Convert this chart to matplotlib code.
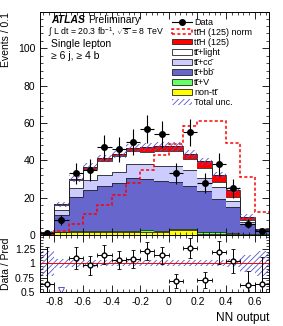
import numpy as np
import matplotlib
matplotlib.use("Agg")
import matplotlib.pyplot as plt
from matplotlib.ticker import MultipleLocator
from matplotlib.patches import Patch
from matplotlib.lines import Line2D

plt.rcParams['font.family'] = ['Liberation Sans', 'DejaVu Sans']
plt.rcParams['mathtext.fontset'] = 'custom'
plt.rcParams['mathtext.rm'] = 'Liberation Sans'
plt.rcParams['mathtext.it'] = 'Liberation Sans:italic'
plt.rcParams['hatch.linewidth'] = 0.6

# NN output bins, 0.1 wide
edges = np.round(np.arange(-0.9, 0.71, 0.1), 2)
centers = edges[:-1] + 0.05

# observed events per bin
data = np.array([1, 8, 33, 35, 47, 46, 50, 57, 54, 33, 55, 28, 38, 25, 6, 2])

# background / signal components
non_tt = np.array([0.5, 1.5, 1.5, 1.5, 1.8, 1.5, 1.5, 1.5, 1.5, 2.5, 2.5, 0.6, 0.6, 0.4, 0.2, 0.1])
tt_v = np.array([0.1, 0.3, 0.4, 0.5, 0.5, 0.5, 0.6, 1.0, 0.8, 0.8, 0.8, 1.2, 1.0, 0.8, 0.5, 0.2])
tt_bb = np.array([0.4, 9.0, 18.6, 22.0, 24.0, 26.0, 28.5, 27.5, 26.9, 25.0, 23.2, 21.6, 17.7, 13.9, 5.1, 1.9])
tt_cc = np.array([0.2, 2.5, 4.5, 5.5, 5.7, 6.0, 7.4, 8.0, 7.8, 8.7, 8.1, 7.2, 6.3, 3.3, 1.4, 0.3])
tt_light = np.array([0.3, 2.9, 4.5, 6.0, 7.8, 8.2, 7.0, 6.7, 8.0, 8.0, 5.9, 5.4, 2.7, 2.1, 0.8, 0.2])
tth = np.array([0.05, 0.3, 0.6, 0.9, 1.2, 1.4, 1.6, 2.5, 2.6, 2.5, 3.1, 3.5, 3.7, 3.5, 1.7, 0.4])
tth_norm = np.array([0.0, 2.2, 6.1, 11.2, 16.0, 21.6, 27.7, 34.6, 42.7, 49.0, 58.4, 61.0, 61.0, 49.4, 31.0, 12.4])
rel_unc = np.array([0.22, 0.08, 0.06, 0.06, 0.05, 0.05, 0.05, 0.05, 0.05, 0.05, 0.05, 0.05, 0.05, 0.07, 0.15, 0.22])

TT = 'tt\u0304'
components = [
    (non_tt, '#ffff00', 'non-' + TT),
    (tt_v, '#66ff66', TT + '+V'),
    (tt_bb, '#6666cc', TT + '+bb\u0304'),
    (tt_cc, '#ccccff', TT + '+cc\u0304'),
    (tt_light, '#ffffff', TT + '+light'),
    (tth, '#ff0000', TT + 'H (125)'),
]

hatch_col = '#5555cc'

fig = plt.figure(figsize=(2.83, 3.26), dpi=100)
ax = fig.add_axes([0.1413, 0.2791, 0.8092, 0.6841])
rax = fig.add_axes([0.1413, 0.1043, 0.8092, 0.1748], sharex=ax)

# stacked histogram
bottom = np.zeros(len(centers))
for vals, col, lab in components:
    top = bottom + vals
    ax.stairs(top, edges, baseline=bottom, fill=True, facecolor=col, lw=0)
    ax.stairs(top, edges, baseline=None, color='#222222', lw=0.6)
    bottom = top
total = bottom

# total uncertainty band
unc = rel_unc * total
ax.bar(centers, 2 * unc, bottom=total - unc, width=0.1, fill=False,
       hatch='//////', edgecolor=hatch_col, lw=0)

# ttH normalised to background
ax.stairs(tth_norm, edges, baseline=None, color='red', lw=1.1, ls=(0, (2, 1.5)))

# data
ax.errorbar(centers, data, yerr=np.sqrt(data), xerr=0.05, fmt='o', color='black',
            ms=4, lw=0.8, capsize=0)

ax.set_xlim(-0.9, 0.7)
ax.set_ylim(0, 119.5)
ax.set_ylabel('Events / 0.1', fontsize=7.5, loc='top')
ax.yaxis.set_label_coords(-0.125, 1.0)
ax.yaxis.set_major_locator(MultipleLocator(20))
ax.yaxis.set_minor_locator(MultipleLocator(4))
ax.xaxis.set_major_locator(MultipleLocator(0.2))
ax.xaxis.set_minor_locator(MultipleLocator(0.04))
plt.setp(ax.get_xticklabels(), visible=False)

for a in (ax, rax):
    a.tick_params(which='both', direction='in', top=True, right=True, labelsize=7.5)
    a.tick_params(which='major', length=5, width=0.6)
    a.tick_params(which='minor', length=2.5, width=0.5)
    for s in a.spines.values():
        s.set_linewidth(0.7)

# text
t = ax.text(0.048, 0.95, 'ATLAS', transform=ax.transAxes, fontsize=7.5,
            fontweight='bold', fontstyle='italic', va='baseline')
ax.annotate('Preliminary', xy=(1, 0), xycoords=t, xytext=(2.5, 0),
            textcoords='offset points', va='bottom', ha='left', fontsize=7.5)
ax.text(0.036, 0.897, '∫ L dt = 20.3 fb$^{-1}$, $\\sqrt{s}$ = 8 TeV',
        transform=ax.transAxes, fontsize=6.3, va='baseline')
ax.text(0.048, 0.843, 'Single lepton', transform=ax.transAxes, fontsize=7.5, va='baseline')
ax.text(0.048, 0.79, '≥ 6 j, ≥ 4 b', transform=ax.transAxes, fontsize=7.5, va='baseline')

# legend
handles = [
    Line2D([0], [0], color='black', marker='o', ms=4, lw=0.8),
    Patch(facecolor='white', edgecolor='red', ls=(0, (2, 1.5)), lw=1.1),
]
labels = ['Data', TT + 'H (125) norm']
for vals, col, lab in reversed(components):
    handles.append(Patch(facecolor=col, edgecolor='#222222', lw=0.6))
    labels.append(lab)
handles.append(Patch(facecolor='none', edgecolor=hatch_col, hatch='//////', lw=0))
labels.append('Total unc.')
ax.legend(handles, labels, loc='upper left', bbox_to_anchor=(0.575, 0.975),
          frameon=False, fontsize=6.5, handlelength=2.2, handleheight=0.6,
          handletextpad=0.3, labelspacing=0.12, borderaxespad=0, borderpad=0)

# ratio panel
ratio = data / total
rerr = np.sqrt(data) / total
rax.bar(centers, 2 * rel_unc, bottom=1 - rel_unc, width=0.1, fill=False,
        hatch='//////', edgecolor=hatch_col, lw=0)
rax.axhline(1, color='red', lw=0.7)
ok = ratio >= 0.5
rax.errorbar(centers[ok], ratio[ok], yerr=rerr[ok], xerr=0.05, fmt='o',
             mfc='white', mec='black', color='black', ms=3.5, lw=0.7,
             capsize=1.5, capthick=0.6)
rax.plot(centers[~ok], np.full((~ok).sum(), 0.53), 'v', mfc='white',
         mec=hatch_col, ms=4, mew=0.7)
rax.set_ylim(0.5, 1.49)
rax.yaxis.set_minor_locator(MultipleLocator(0.05))
rax.set_yticks([0.5, 0.75, 1, 1.25])
rax.set_yticklabels(['0.5', '0.75', '1', '1.25'])
rax.set_ylabel('Data / Pred', fontsize=7.5)
rax.yaxis.set_label_coords(-0.125, 0.5)
rax.set_xlabel('NN output', fontsize=8.5, loc='right')
rax.set_xticks([-0.8, -0.6, -0.4, -0.2, 0, 0.2, 0.4, 0.6])
rax.set_xticklabels(['-0.8', '-0.6', '-0.4', '-0.2', '0', '0.2', '0.4', '0.6'])

fig.savefig('out.png', dpi=100)
